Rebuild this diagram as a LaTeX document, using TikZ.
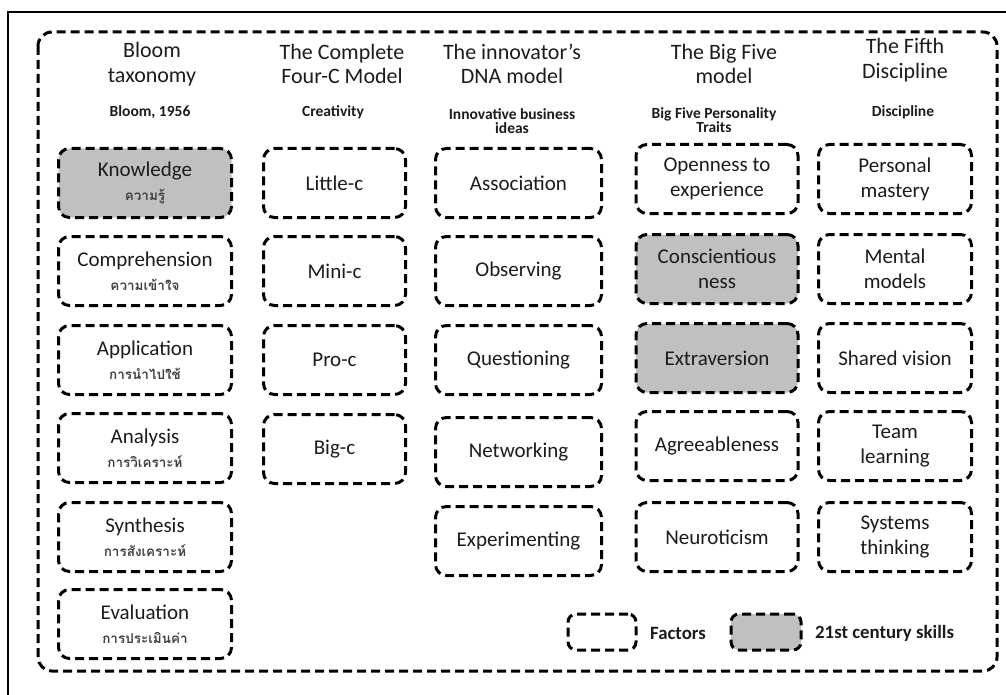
\documentclass[tikz,border=0pt]{standalone}
\usepackage{fontspec}
\setmainfont{Carlito}
\newfontfamily\thaifont[Script=Thai]{Loma}
\definecolor{txt}{HTML}{1C1C1C}
\definecolor{thaitxt}{HTML}{404040}
\definecolor{skillgray}{HTML}{C0C0C0}
\newcommand{\boxfont}{\fontsize{21}{25}\selectfont}
\newcommand{\headfont}{\fontsize{22}{24.5}\selectfont}
\newcommand{\subfont}{\bfseries\fontsize{15.5}{14}\selectfont}
\newcommand{\thailine}[1]{\\[-1pt]{\thaifont\bfseries\color{thaitxt}\fontsize{13.5}{15}\selectfont #1}}
\tikzset{
  dashline/.style={draw=black, line width=3pt, dash pattern=on 9pt off 5pt},
  skill/.style={dashline, rounded corners=11pt, minimum height=69pt,
    align=center, text=txt, font=\boxfont, inner sep=2pt},
  plain/.style={skill, fill=white},
  hl/.style={skill, fill=skillgray},
  head/.style={align=center, text=txt, font=\headfont, inner sep=0pt},
  sub/.style={align=center, text=txt, font=\subfont, inner sep=0pt},
  legendtxt/.style={anchor=west, text=txt, font=\bfseries\fontsize{18.8}{20}\selectfont, inner sep=0pt},
}
\begin{document}
\begin{tikzpicture}[x=1pt,y=-1pt]
\useasboundingbox (0,0) rectangle (1006,695);
\fill[white] (0,0) rectangle (1006,695);

% thin outer frame
\coordinate (ftl) at (8,12);
\coordinate (ftr) at (1006,12);
\coordinate (fbl) at (8,695);
\draw[line width=1.6pt] (fbl) -- (ftl) -- (ftr);

% dashed enclosure
\draw[dashline, rounded corners=14pt] (38,32) rectangle (997,671);

% column headings
\node[head] (h1) at (152,64) {Bloom\\taxonomy};
\node[head] (h2) at (342,64) {The Complete\\Four-C Model};
\node[head] (h3) at (512,64) {The innovator's\\DNA model};
\node[head] (h4) at (724,64) {The Big Five\\model};
\node[head] (h5) at (905,60) {The Fifth\\Discipline};

\node[sub] (s1) at (150,112) {Bloom, 1956};
\node[sub] (s2) at (333,112) {Creativity};
\node[sub] (s3) at (512,121) {Innovative business\\ideas};
\node[sub] (s4) at (714,120) {Big Five Personality\\Traits};
\node[sub] (s5) at (903,112) {Discipline};

% Bloom taxonomy
\begin{scope}[every node/.append style={minimum width=173pt}]
\node[hl]    (k)  at (145,183) {Knowledge\thailine{ความรู้}};
\node[plain] (c)  at (145,271) {Comprehension\thailine{ความเข้าใจ}};
\node[plain] (ap) at (145,360) {Application\thailine{การนำไปใช้}};
\node[plain] (an) at (145,448) {Analysis\thailine{การวิเคราะห์}};
\node[plain] (sy) at (145,537) {Synthesis\thailine{การสังเคราะห์}};
\node[plain] (ev) at (145,624) {Evaluation\thailine{การประเมินค่า}};
\end{scope}

% Four-C model
\begin{scope}[every node/.append style={minimum width=142pt}]
\node[plain] (lc) at (334.5,183) {Little-c};
\node[plain] (mc) at (334.5,271) {Mini-c};
\node[plain] (pc) at (334.5,360) {Pro-c};
\node[plain] (bc) at (334.5,449) {Big-c};
\end{scope}

% Innovator's DNA
\begin{scope}[every node/.append style={minimum width=166pt}]
\node[plain] (as) at (518.5,183) {Association};
\node[plain] (ob) at (518.5,271) {Observing};
\node[plain] (qu) at (518.5,360) {Questioning};
\node[plain] (nw) at (518.5,452) {Networking};
\node[plain] (ex) at (518.5,541) {Experimenting};
\end{scope}

% Big Five
\begin{scope}[every node/.append style={minimum width=162pt}]
\node[plain] (op) at (717,179) {Openness to\\experience};
\node[hl]    (co) at (717,269) {Conscientious\\ness};
\node[hl]    (xv) at (717,358) {Extraversion};
\node[plain] (ag) at (717,446) {Agreeableness};
\node[plain] (ne) at (717,537) {Neuroticism};
\end{scope}

% Fifth Discipline
\begin{scope}[every node/.append style={minimum width=153pt}]
\node[plain] (pm) at (895,179) {Personal\\mastery};
\node[plain] (mm) at (895,269) {Mental\\models};
\node[plain] (sv) at (895,358) {Shared vision};
\node[plain] (tl) at (895,446) {Team\\learning};
\node[plain] (st) at (895,537) {Systems\\thinking};
\end{scope}

% legend
\node[plain, minimum width=68pt, minimum height=36pt, rounded corners=8pt] (lf) at (602,632) {};
\node[legendtxt] (lft) at (650,633) {Factors};
\node[hl, minimum width=70pt, minimum height=36pt, rounded corners=8pt] (ls) at (766,632) {};
\node[legendtxt] (lst) at (815,633) {21st century skills};
\end{tikzpicture}
\end{document}
